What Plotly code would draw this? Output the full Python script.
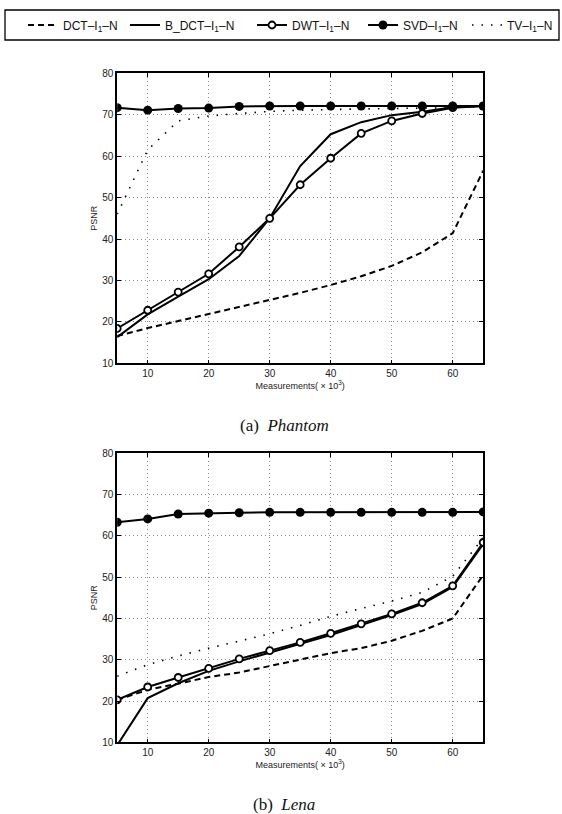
import plotly.graph_objects as go

measurements = [5, 10, 15, 20, 25, 30, 35, 40, 45, 50, 55, 60, 65]

# (a) Phantom
phantom_dct = [16.6, 18.5, 20.2, 21.9, 23.5, 25.2, 27.0, 28.9, 31.0, 33.5, 36.8, 41.4, 56.5]
phantom_bdct = [16.3, 21.8, 26.1, 30.3, 35.9, 45.0, 57.6, 65.3, 68.2, 69.9, 70.7, 71.8, 72.1]
phantom_dwt = [18.4, 22.8, 27.2, 31.6, 38.1, 45.0, 53.1, 59.5, 65.5, 68.5, 70.3, 71.7, 72.1]
phantom_svd = [71.7, 71.1, 71.5, 71.6, 72.0, 72.1, 72.1, 72.1, 72.1, 72.1, 72.1, 72.1, 72.1]
phantom_tv = [46.0, 61.5, 68.5, 69.7, 70.3, 70.8, 71.1, 71.3, 71.4, 71.5, 71.6, 71.7, 72.0]

# (b) Lena
lena_dct = [20.3, 22.7, 24.2, 25.8, 26.9, 28.5, 30.0, 31.6, 32.8, 34.6, 37.0, 40.0, 50.5]
lena_bdct = [9.3, 20.7, 24.3, 27.3, 29.6, 31.7, 33.8, 36.0, 38.4, 40.8, 43.5, 47.6, 58.0]
lena_dwt = [20.3, 23.4, 25.7, 27.9, 30.2, 32.2, 34.2, 36.4, 38.7, 41.1, 43.8, 47.9, 58.4]
lena_svd = [63.3, 64.1, 65.3, 65.5, 65.6, 65.7, 65.7, 65.7, 65.7, 65.7, 65.7, 65.7, 65.8]
lena_tv = [26.0, 28.8, 30.9, 32.8, 34.5, 36.3, 38.3, 40.5, 42.4, 44.2, 46.3, 50.2, 59.5]

names = ["DCT–I<sub>1</sub>–N", "B_DCT–I<sub>1</sub>–N", "DWT–I<sub>1</sub>–N",
         "SVD–I<sub>1</sub>–N", "TV–I<sub>1</sub>–N"]
x_ticks = [10, 20, 30, 40, 50, 60]
y_ticks = [10, 20, 30, 40, 50, 60, 70, 80]

W, H = 562, 814
fig = go.Figure()

legend_widths = [57, 82, 66, 59, 60]

def add_set(dct, bdct, dwt, svd, tv, xa, ya, show):
    common = dict(x=measurements, xaxis=xa, yaxis=ya, showlegend=show)
    fig.add_trace(go.Scatter(y=dct, name=names[0], mode="lines", legendwidth=legend_widths[0],
                             line=dict(color="black", width=2, dash="6px,4px"), **common))
    fig.add_trace(go.Scatter(y=bdct, name=names[1], mode="lines", legendwidth=legend_widths[1],
                             line=dict(color="black", width=2), **common))
    fig.add_trace(go.Scatter(y=dwt, name=names[2], mode="lines+markers", legendwidth=legend_widths[2],
                             line=dict(color="black", width=2),
                             marker=dict(symbol="circle", size=7, color="white",
                                         line=dict(color="black", width=1.8)), **common))
    fig.add_trace(go.Scatter(y=svd, name=names[3], mode="lines+markers", legendwidth=legend_widths[3],
                             line=dict(color="black", width=2),
                             marker=dict(symbol="circle", size=9, color="black"), **common))
    fig.add_trace(go.Scatter(y=tv, name=names[4], mode="lines", legendwidth=legend_widths[4],
                             line=dict(color="black", width=1.6, dash="1.5px,8px"), **common))

add_set(phantom_dct, phantom_bdct, phantom_dwt, phantom_svd, phantom_tv, "x", "y", True)
add_set(lena_dct, lena_bdct, lena_dwt, lena_svd, lena_tv, "x2", "y2", False)

left, right = 117.2, 483.2
top1, bot1 = 73.3, 363.3
top2, bot2 = 453.3, 742.3

tickfont = dict(family="Liberation Sans, Arial", size=10, color="#222")
titlefont = dict(family="Liberation Sans, Arial", size=9, color="#222")

def xaxis(anchor):
    return dict(domain=[left / W, right / W], range=[5, 65], anchor=anchor,
                tickvals=x_ticks, ticks="inside", ticklen=4, tickcolor="black",
                showline=True, linecolor="black", linewidth=1.5, mirror="ticks",
                showgrid=True, gridcolor="#888", griddash="1px,3px", gridwidth=1,
                zeroline=False, tickfont=tickfont,
                title=dict(text="Measurements( × 10<sup>3</sup>)", font=titlefont, standoff=3))

def yaxis(anchor, t, b):
    return dict(domain=[1 - b / H, 1 - t / H], range=[10, 80], anchor=anchor,
                tickvals=y_ticks, ticks="inside", ticklen=4, tickcolor="black",
                showline=True, linecolor="black", linewidth=1.5, mirror="ticks",
                showgrid=True, gridcolor="#888", griddash="1px,3px", gridwidth=1,
                zeroline=False, tickfont=tickfont,
                title=dict(text="PSNR", font=titlefont, standoff=3))

capfont = dict(family="Liberation Serif, Times New Roman", size=17, color="#111")

fig.update_layout(
    width=W, height=H,
    margin=dict(l=0, r=0, t=0, b=0, autoexpand=False),
    paper_bgcolor="white", plot_bgcolor="white",
    xaxis=xaxis("y"), yaxis=yaxis("x", top1, bot1),
    xaxis2=xaxis("y2"), yaxis2=yaxis("x2", top2, bot2),
    legend=dict(orientation="h", x=23 / W, y=1 - 25 / H, xanchor="left", yanchor="middle",
                borderwidth=0, bgcolor="rgba(0,0,0,0)",
                font=dict(family="Liberation Sans, Arial", size=12, color="#111"),
                itemwidth=30, tracegroupgap=0),
    shapes=[dict(type="rect", xref="paper", yref="paper",
                 x0=5 / W, x1=559 / W, y0=1 - 40 / H, y1=1 - 10 / H,
                 line=dict(color="black", width=1.3), fillcolor="rgba(0,0,0,0)", layer="below")],
    annotations=[
        dict(text="(a)&nbsp;&nbsp;<i>Phantom</i>", x=284 / W, y=1 - 425 / H, xref="paper", yref="paper",
             xanchor="center", yanchor="middle", showarrow=False, font=capfont),
        dict(text="(b)&nbsp;&nbsp;<i>Lena</i>", x=284 / W, y=1 - 804 / H, xref="paper", yref="paper",
             xanchor="center", yanchor="middle", showarrow=False, font=capfont),
    ],
)

fig.write_html("out.html", config={"displayModeBar": False},
               post_script="document.body.style.margin='0px';")
